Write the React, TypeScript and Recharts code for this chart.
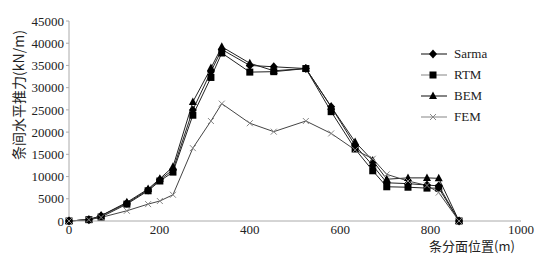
import React from 'react'
import { LineChart, Line, XAxis, YAxis, Label } from 'recharts'

const positions = [0, 44, 71, 128, 175, 201, 230, 274, 314, 338, 400, 453, 524, 580, 633, 672, 703, 750, 792, 818, 863]
const sarma = [0, 300, 1200, 4000, 7000, 9300, 11500, 25000, 33600, 38600, 35000, 34700, 34300, 25700, 17000, 12500, 8600, 8400, 8100, 7900, 0]
const rtm = [0, 300, 900, 3800, 6800, 9000, 11000, 23800, 32300, 37800, 33500, 33600, 34300, 24600, 16200, 11300, 7700, 7600, 7400, 7400, 0]
const bem = [0, 300, 1200, 4200, 7200, 9500, 12200, 26800, 34400, 39200, 35500, 33800, 34300, 25700, 17800, 13600, 9400, 9700, 9700, 9600, 0]
const fem = [0, 300, 800, 2300, 3800, 4500, 5900, 16400, 22500, 26400, 22000, 20100, 22500, 19700, 16000, 14000, 10500, 9000, 8000, 6400, 0]

const xTicks = [0, 200, 400, 600, 800, 1000]
const yTicks = [0, 5000, 10000, 15000, 20000, 25000, 30000, 35000, 40000, 45000]

const data = positions.map((x, i) => ({ x, sarma: sarma[i], rtm: rtm[i], bem: bem[i], fem: fem[i] }))

const series = [
  { key: 'sarma', name: 'Sarma', shape: 'diamond' },
  { key: 'rtm', name: 'RTM', shape: 'square' },
  { key: 'bem', name: 'BEM', shape: 'triangle' },
  { key: 'fem', name: 'FEM', shape: 'cross' },
]

const serif = '"Liberation Serif", "DejaVu Serif", serif'
const cjk = '"Noto Sans CJK SC", sans-serif'

function markerPath(shape: string, cx: number, cy: number) {
  switch (shape) {
    case 'diamond':
      return <path d={`M${cx},${cy - 4.5}L${cx + 4},${cy}L${cx},${cy + 4.5}L${cx - 4},${cy}Z`} fill="#000" />
    case 'square':
      return <rect x={cx - 3.5} y={cy - 3.5} width={7} height={7} fill="#000" />
    case 'triangle':
      return <path d={`M${cx},${cy - 4.5}L${cx + 4},${cy + 3}L${cx - 4},${cy + 3}Z`} fill="#000" />
    default:
      return (
        <path d={`M${cx - 3},${cy - 3}L${cx + 3},${cy + 3}M${cx - 3},${cy + 3}L${cx + 3},${cy - 3}`}
          stroke="#888" strokeWidth={1} fill="none" />
      )
  }
}

const makeDot = (shape: string) => (props: any) => {
  const { cx, cy, index } = props
  if (cx == null || cy == null) return <g key={index} />
  return <g key={index}>{markerPath(shape, cx, cy)}</g>
}

function LegendBox() {
  return (
    <div style={{ position: 'absolute', left: 421, top: 43, fontFamily: serif, fontSize: 13, color: '#222' }}>
      {series.map(s => (
        <div key={s.key} style={{ display: 'flex', alignItems: 'center', height: 21 }}>
          <svg width={28} height={12}>
            <line x1={0} y1={6} x2={26} y2={6} stroke={s.shape === 'square' || s.shape === 'cross' ? '#999' : '#333'} strokeWidth={1.2} />
            {markerPath(s.shape, 12, 6)}
          </svg>
          <span style={{ marginLeft: 5 }}>{s.name}</span>
        </div>
      ))}
    </div>
  )
}

export default function App() {
  return (
    <div style={{ position: 'absolute', left: 0, top: 0, width: 546, height: 254, background: '#fff' }}>
      <LineChart width={546} height={254} data={data} margin={{ top: 21, right: 25, left: 0, bottom: 3 }}>
        <XAxis
          type="number" dataKey="x" domain={[0, 1000]} ticks={xTicks} height={30}
          axisLine={{ stroke: '#aaa' }} tickLine={false} interval={0}
          tick={{ fontSize: 13, fill: '#222', fontFamily: serif, dy: -2 }}
          tickMargin={0}
        >
          <Label content={() => (
            <text x={472} y={251} textAnchor="middle" fontSize={13} fill="#222" fontFamily={cjk}>条分面位置(m)</text>
          )} />
        </XAxis>
        <YAxis
          width={69} domain={[0, 45000]} ticks={yTicks} interval={0}
          axisLine={{ stroke: '#aaa' }} tickLine={{ stroke: '#aaa' }} tickSize={3}
          tick={{ fontSize: 13, fill: '#222', fontFamily: serif }}
        >
          <Label content={() => (
            <text x={18} y={95} transform="rotate(-90 18 95)" textAnchor="middle" dominantBaseline="central"
              fontSize={14} fill="#222" fontFamily={cjk}>条间水平推力(kN/m)</text>
          )} />
        </YAxis>
        {series.map(s => (
          <Line
            key={s.key} dataKey={s.key} name={s.name} type="linear"
            stroke={s.key === 'fem' ? '#444' : '#222'} strokeWidth={1}
            dot={makeDot(s.shape)} activeDot={false}
            isAnimationActive={false}
          />
        ))}
      </LineChart>
      <LegendBox />
    </div>
  )
}
